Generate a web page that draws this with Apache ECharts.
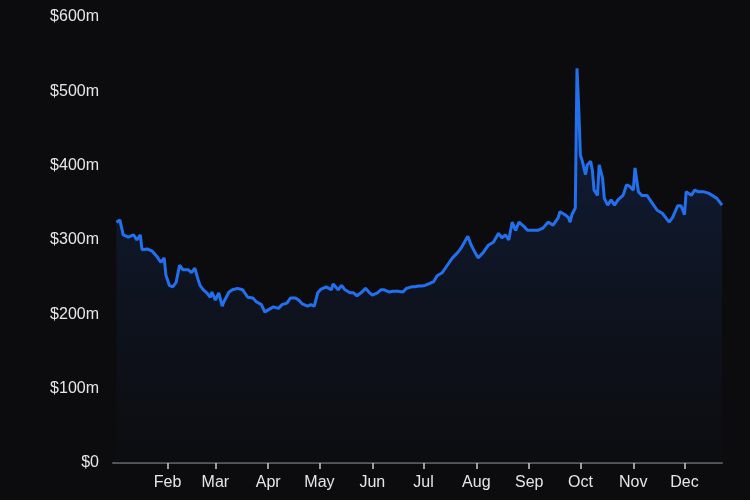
<!DOCTYPE html>
<html><head><meta charset="utf-8">
<script src="https://cdn.jsdelivr.net/npm/echarts@6/dist/echarts.min.js"></script>
<style>html,body{margin:0;background:#0c0c0e}#c{width:750px;height:500px}</style>
</head><body><div id="c"></div>
<script>
var days = [1,3,5,8,11,13,15,16,19,22,25,27,29,30,32,34,36,38,40,43,45,47,49,50,52,54,56,57,59,61,63,64,67,69,72,75,78,81,83,86,88,90,93,96,98,101,103,106,108,110,113,115,117,119,121,124,127,128,131,133,135,138,140,142,145,147,149,151,154,156,158,161,163,166,169,171,174,176,178,180,182,185,187,189,192,195,198,201,203,205,207,209,212,213,216,219,222,225,227,229,231,233,235,237,240,242,245,248,251,254,257,260,261,264,266,267,268,270,271,272,273,274,276,277,279,280,281,283,284,285,286,287,289,291,293,295,298,300,302,304,305,307,309,312,315,318,321,324,325,327,330,332,334,335,338,340,342,345,348,351,353,356];
var values = [324,327,307,304,307,300,307,287,288,285,277,270,276,253,239,237,243,266,260,260,256,262,246,239,233,229,223,230,219,229,211,217,230,233,235,233,223,222,217,213,203,206,210,208,213,215,222,222,219,214,211,213,211,229,234,237,233,241,233,239,233,229,229,225,230,235,230,226,229,233,233,230,231,231,230,235,237,237,238,238,239,242,244,252,256,266,276,283,289,297,305,293,280,276,283,293,297,309,303,307,300,324,313,324,318,313,313,313,316,324,320,330,338,334,330,324,334,343,531,478,414,407,388,401,406,394,367,360,401,403,383,356,347,354,347,354,360,374,372,367,397,365,360,360,350,340,336,327,324,330,346,346,334,365,360,367,365,365,363,359,356,347];
var monthDays = [31,59,90,120,151,181,212,243,273,304,334];
var monthNames = ['Feb','Mar','Apr','May','Jun','Jul','Aug','Sep','Oct','Nov','Dec'];

var chart = echarts.init(document.getElementById('c'));
chart.setOption({
  backgroundColor:'#0c0c0e',
  animation:false,
  grid:{left:113,right:28,top:17,bottom:37},
  xAxis:{type:'value',min:-1,max:356,
    axisLine:{lineStyle:{color:'#555',width:2}},
    splitLine:{show:false},
    axisTick:{customValues:monthDays,length:6,lineStyle:{color:'#ccc',width:1.5}},
    axisLabel:{customValues:monthDays,color:'#e6e6e6',fontSize:16,fontFamily:'Liberation Sans',margin:12,
      formatter:function(v){return monthNames[monthDays.indexOf(v)]||'';}}
  },
  yAxis:{type:'value',min:0,max:600,interval:100,
    axisLine:{show:false},axisTick:{show:false},
    splitLine:{show:false},
    axisLabel:{color:'#e6e6e6',fontSize:16,fontFamily:'Liberation Sans',margin:14,
      formatter:function(v){return v===0?'$0':'$'+v+'m';}}
  },
  series:[{type:'line',showSymbol:false,
    data:days.map(function(d,i){return [d,values[i]];}),
    lineStyle:{color:'#2370ee',width:3},
    itemStyle:{color:'#2370ee'},
    areaStyle:{color:new echarts.graphic.LinearGradient(0,0,0,1,[
      {offset:0,color:'rgba(30,80,180,0.45)'},{offset:1,color:'rgba(15,20,35,0.2)'}])}
  }]
});
</script></body></html>
